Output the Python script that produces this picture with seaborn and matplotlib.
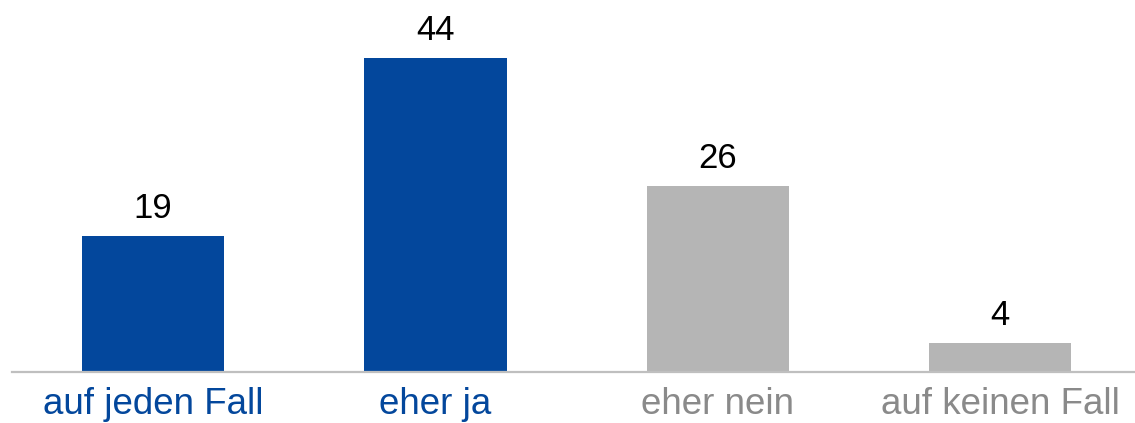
import pandas as pd
import seaborn as sns
import matplotlib.pyplot as plt

# data
categories = ['auf jeden Fall', 'eher ja', 'eher nein', 'auf keinen Fall']
values = [19, 44, 26, 4]

blue = '#03479C'
grey = '#B5B5B5'
bar_colors = [blue, blue, grey, grey]
label_colors = [blue, blue, '#8A8A8A', '#8A8A8A']

df = pd.DataFrame({'Antwort': categories, 'Wert': values})

sns.set_style('white')
plt.rcParams['font.family'] = ['Liberation Sans', 'DejaVu Sans']

fig = plt.figure(figsize=(11.35, 4.23), dpi=100)
ax = fig.add_axes([12 / 1135, 51 / 423, 1123 / 1135, 372 / 423])

sns.barplot(data=df, x='Antwort', y='Wert', hue='Antwort', palette=bar_colors,
            width=0.505, legend=False, ax=ax, saturation=1, linewidth=0)

# value labels
for container in ax.containers:
    ax.bar_label(container, fmt='%d', padding=8, fontsize=25, color='black')

ax.set_xlim(-0.5, -0.5 + 1123 / 282.33)
ax.set_ylim(0, 52.13)
ax.set_xlabel('')
ax.set_ylabel('')
ax.set_yticks([])
ax.tick_params(axis='x', length=0, pad=11, labelsize=26.5)
for lbl, c in zip(ax.get_xticklabels(), label_colors):
    lbl.set_color(c)

for s in ['top', 'right', 'left']:
    ax.spines[s].set_visible(False)
ax.spines['bottom'].set_color('#BFBFBF')
ax.spines['bottom'].set_linewidth(1.6)

fig.savefig('out.png', dpi=100)
